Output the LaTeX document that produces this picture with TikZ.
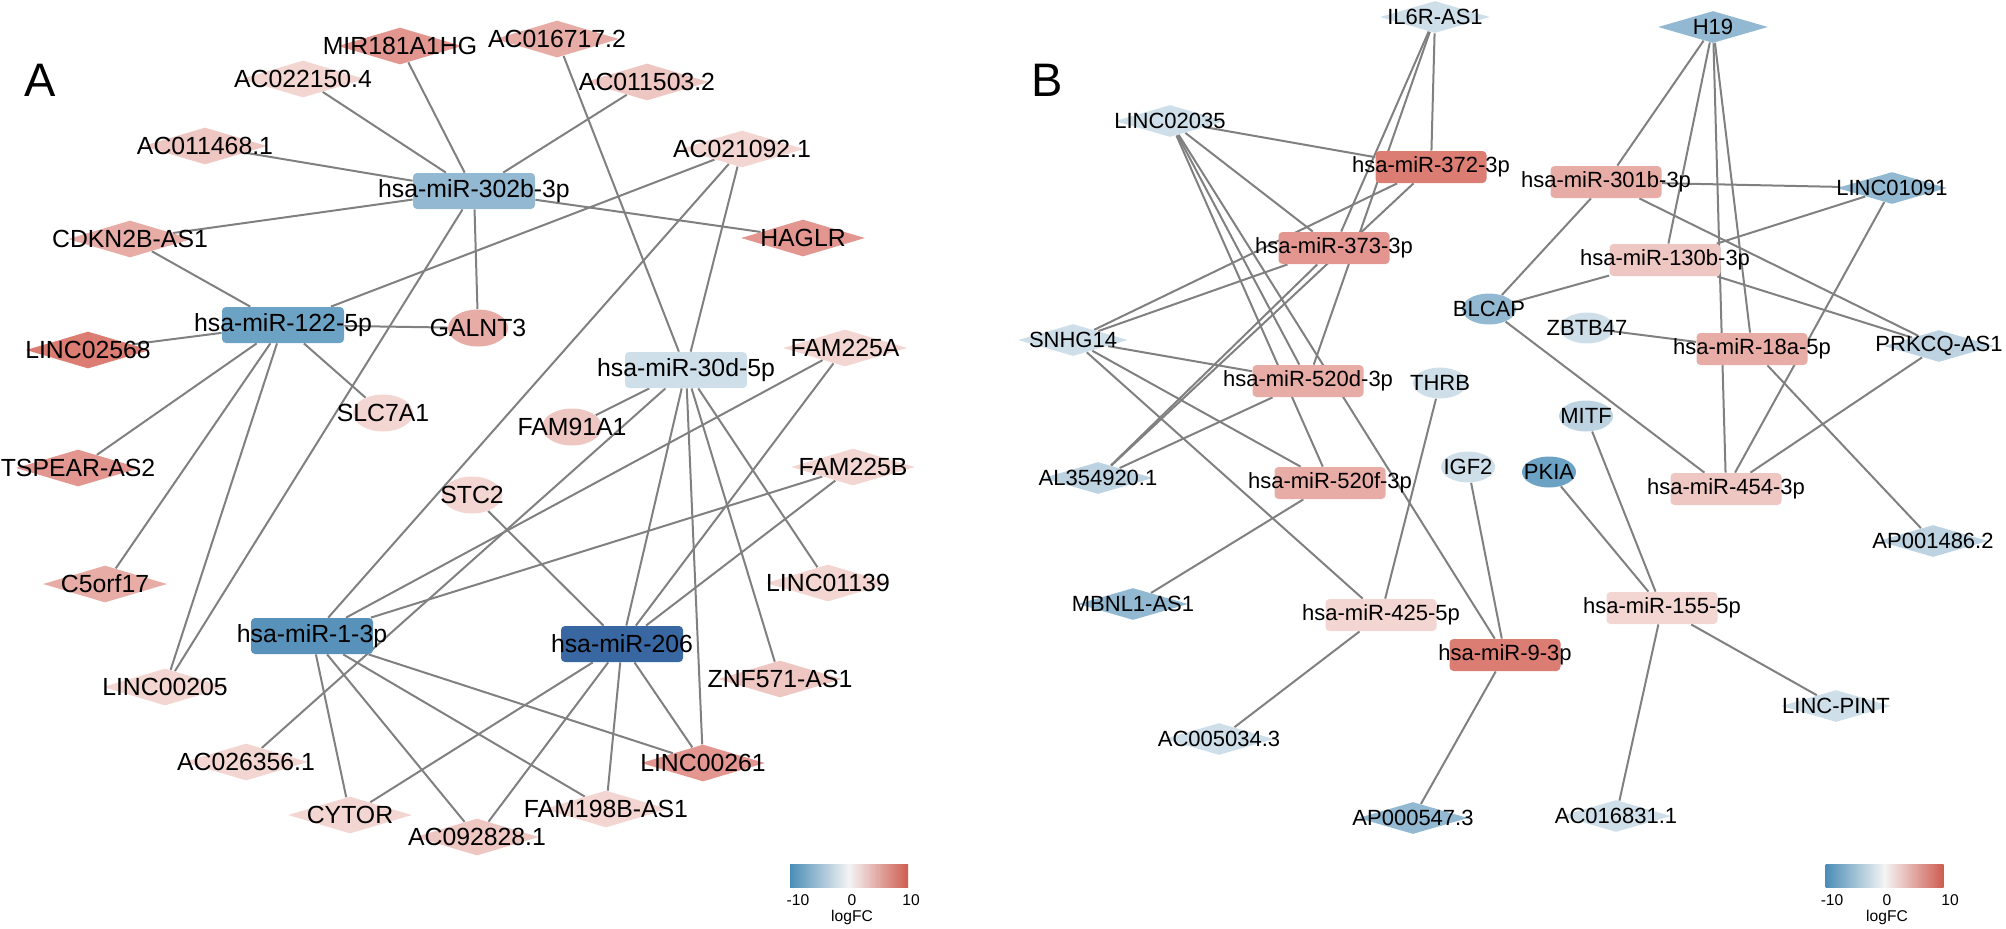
\documentclass[tikz,border=0pt]{standalone}
\usepackage{fontspec}
\setmainfont{Liberation Sans}
\usetikzlibrary{shapes.geometric, backgrounds, positioning}
\definecolor{up1}{RGB}{243,214,210}
\definecolor{up2}{RGB}{238,198,194}
\definecolor{up3}{RGB}{232,172,166}
\definecolor{up4}{RGB}{226,150,143}
\definecolor{up5}{RGB}{219,125,115}
\definecolor{dn1}{RGB}{207,223,233}
\definecolor{dn2}{RGB}{189,211,226}
\definecolor{dn3}{RGB}{146,185,209}
\definecolor{dn4}{RGB}{108,162,196}
\definecolor{dn5}{RGB}{88,146,186}
\definecolor{dn6}{RGB}{56,103,161}
\definecolor{linkgray}{RGB}{128,128,128}
\definecolor{fcblue}{RGB}{74,141,182}
\definecolor{fcwhite}{RGB}{244,244,244}
\definecolor{fcred}{RGB}{206,92,80}
\newcommand{\lbl}[1]{\makebox[0pt]{#1}}
\tikzset{
x=0.5pt, y=-0.5pt, % one unit is one pixel of the figure, y grows downwards
panel/.style={font=\fontsize{23.5}{26}\selectfont}, % the A and B tags
mirA/.style={rectangle, rounded corners=2pt, minimum width=61pt, minimum height=18pt, inner sep=0pt, font=\fontsize{12.4}{14}\selectfont}, % microRNA, panel A
lncA/.style={diamond, minimum width=62pt, minimum height=18.5pt, inner sep=0pt, font=\fontsize{12.4}{14}\selectfont}, % lncRNA, panel A
pcgA/.style={ellipse, minimum width=30pt, minimum height=18.5pt, inner sep=-3pt, font=\fontsize{12.4}{14}\selectfont}, % mRNA, panel A
mirB/.style={rectangle, rounded corners=2pt, minimum width=55.5pt, minimum height=16pt, inner sep=0pt, font=\fontsize{11}{13}\selectfont}, % microRNA, panel B
lncB/.style={diamond, minimum width=55pt, minimum height=16pt, inner sep=0pt, font=\fontsize{11}{13}\selectfont}, % lncRNA, panel B
pcgB/.style={ellipse, minimum width=27pt, minimum height=15.5pt, inner sep=-3pt, font=\fontsize{11}{13}\selectfont}, % mRNA, panel B
link/.style={every edge/.style={draw, linkgray, line width=1pt}}, % the grey interaction lines
scalebar/.style={rectangle, minimum width=59pt, minimum height=11.5pt, inner sep=0pt, left color=fcblue, right color=fcred, middle color=fcwhite}, % logFC colour key (middle colour last)
scaletick/.style={inner sep=0pt, font=\fontsize{7.8}{9}\selectfont}
}
\begin{document}
\begin{tikzpicture}
\useasboundingbox (0,0) rectangle (2006,928);

\node[panel] (tagA) at (40,80) {A};
\node[mirA, fill=dn3] (m302b) at (474,191) {\lbl{hsa-miR-302b-3p}};
\node[mirA, fill=dn4] (m122) at (283,325) {\lbl{hsa-miR-122-5p}};
\node[mirA, fill=dn1] (m30d) at (686,370) {\lbl{hsa-miR-30d-5p}};
\node[mirA, fill=dn5] (m1) at (312,636) {\lbl{hsa-miR-1-3p}};
\node[mirA, fill=dn6] (m206) at (622,644) {\lbl{hsa-miR-206}};
\node[lncA, fill=up4] (mir181) at (400,46) {\lbl{MIR181A1HG}};
\node[lncA, fill=up1] (ac0221) at (303,79) {\lbl{AC022150.4}};
\node[lncA, fill=up2] (ac0114) at (205,146) {\lbl{AC011468.1}};
\node[lncA, fill=up3] (cdkn) at (130,239) {\lbl{CDKN2B-AS1}};
\node[lncA, fill=up5] (li2568) at (88,350) {\lbl{LINC02568}};
\node[pcgA, fill=up3] (galnt3) at (478,328) {\lbl{GALNT3}};
\node[pcgA, fill=up1] (slc7a1) at (383,413) {\lbl{SLC7A1}};
\node[lncA, fill=up4] (tspear) at (78,468) {\lbl{TSPEAR-AS2}};
\node[lncA, fill=up3] (c5orf) at (105,584) {\lbl{C5orf17}};
\node[lncA, fill=up1] (li0205) at (165,687) {\lbl{LINC00205}};
\node[lncA, fill=up1] (ac0263) at (246,762) {\lbl{AC026356.1}};
\node[lncA, fill=up1] (cytor) at (350,815) {\lbl{CYTOR}};
\node[lncA, fill=up2] (ac0928) at (477,837) {\lbl{AC092828.1}};
\node[pcgA, fill=up1] (stc2) at (472,495) {\lbl{STC2}};
\node[lncA, fill=up3] (ac0167) at (557,39) {\lbl{AC016717.2}};
\node[lncA, fill=up2] (ac0115) at (647,82) {\lbl{AC011503.2}};
\node[lncA, fill=up1] (ac0210) at (742,149) {\lbl{AC021092.1}};
\node[lncA, fill=up4] (haglr) at (803,238) {\lbl{HAGLR}};
\node[lncA, fill=up1] (f225a) at (845,348) {\lbl{FAM225A}};
\node[pcgA, fill=up2] (fam91) at (572,427) {\lbl{FAM91A1}};
\node[lncA, fill=up1] (f225b) at (853,467) {\lbl{FAM225B}};
\node[lncA, fill=up1] (li1139) at (828,583) {\lbl{LINC01139}};
\node[lncA, fill=up2] (znf571) at (780,679) {\lbl{ZNF571-AS1}};
\node[lncA, fill=up4] (li0261) at (703,763) {\lbl{LINC00261}};
\node[lncA, fill=up1] (fam198) at (606,809) {\lbl{FAM198B-AS1}};

\node[panel] (tagB) at (1047,80) {B};
\node[mirB, fill=up5] (m372) at (1431,167) {\lbl{hsa-miR-372-3p}};
\node[mirB, fill=up4] (m373) at (1334,248) {\lbl{hsa-miR-373-3p}};
\node[mirB, fill=up3] (m520d) at (1308,381) {\lbl{hsa-miR-520d-3p}};
\node[mirB, fill=up3] (m520f) at (1330,483) {\lbl{hsa-miR-520f-3p}};
\node[mirB, fill=up1] (m425) at (1381,615) {\lbl{hsa-miR-425-5p}};
\node[mirB, fill=up5] (m9) at (1505,655) {\lbl{hsa-miR-9-3p}};
\node[mirB, fill=up3] (m301b) at (1606,182) {\lbl{hsa-miR-301b-3p}};
\node[mirB, fill=up2] (m130b) at (1665,260) {\lbl{hsa-miR-130b-3p}};
\node[mirB, fill=up3] (m18a) at (1752,349) {\lbl{hsa-miR-18a-5p}};
\node[mirB, fill=up2] (m454) at (1726,489) {\lbl{hsa-miR-454-3p}};
\node[mirB, fill=up1] (m155) at (1662,608) {\lbl{hsa-miR-155-5p}};
\node[lncB, fill=dn1] (il6r) at (1435,17) {\lbl{IL6R-AS1}};
\node[lncB, fill=dn1] (li2035) at (1170,121) {\lbl{LINC02035}};
\node[lncB, fill=dn1] (snhg14) at (1073,340) {\lbl{SNHG14}};
\node[pcgB, fill=dn1] (thrb) at (1440,383) {\lbl{THRB}};
\node[pcgB, fill=dn3] (blcap) at (1489,309) {\lbl{BLCAP}};
\node[pcgB, fill=dn1] (igf2) at (1468,467) {\lbl{IGF2}};
\node[lncB, fill=dn2] (al3549) at (1098,478) {\lbl{AL354920.1}};
\node[lncB, fill=dn3] (mbnl1) at (1133,604) {\lbl{MBNL1-AS1}};
\node[lncB, fill=dn1] (ac0050) at (1219,739) {\lbl{AC005034.3}};
\node[lncB, fill=dn3] (ap0005) at (1413,818) {\lbl{AP000547.3}};
\node[lncB, fill=dn3] (h19) at (1713,27) {\lbl{H19}};
\node[lncB, fill=dn3] (li1091) at (1892,188) {\lbl{LINC01091}};
\node[pcgB, fill=dn1] (zbtb47) at (1587,328) {\lbl{ZBTB47}};
\node[lncB, fill=dn2] (prkcq) at (1939,346) {\lbl{PRKCQ-AS1}};
\node[pcgB, fill=dn2] (mitf) at (1586,416) {\lbl{MITF}};
\node[pcgB, fill=dn4] (pkia) at (1549,472) {\lbl{PKIA}};
\node[lncB, fill=dn2] (ap0014) at (1933,541) {\lbl{AP001486.2}};
\node[lncB, fill=dn1] (lpint) at (1836,706) {\lbl{LINC-PINT}};
\node[lncB, fill=dn1] (ac0168) at (1616,816) {\lbl{AC016831.1}};

\node[scalebar] (keyA) at (849,875.5) {};
\node[scaletick] (keyAlo) at (798,900) {-10};
\node[scaletick] (keyAmid) at (852,900) {0};
\node[scaletick] (keyAhi) at (911,900) {10};
\node[scaletick] (keyAname) at (852,917) {logFC};
\node[scalebar] (keyB) at (1884.5,875.5) {};
\node[scaletick] (keyBlo) at (1832,900) {-10};
\node[scaletick] (keyBmid) at (1887,900) {0};
\node[scaletick] (keyBhi) at (1950,900) {10};
\node[scaletick] (keyBname) at (1887,917) {logFC};

\begin{scope}[on background layer]
\draw[link] (m302b) edge (mir181) (m302b) edge (ac0221) (m302b) edge (ac0114)
  (m302b) edge (cdkn) (m302b) edge (ac0115) (m302b) edge (haglr)
  (m302b) edge (galnt3) (m302b) edge (li0205)
  (m122) edge (cdkn) (m122) edge (li2568) (m122) edge (galnt3)
  (m122) edge (slc7a1) (m122) edge (ac0210) (m122) edge (tspear)
  (m122) edge (c5orf) (m122) edge (li0205)
  (m30d) edge (ac0167) (m30d) edge (ac0210) (m30d) edge (fam91)
  (m30d) edge (ac0263) (m30d) edge (m206) (m30d) edge (li0261)
  (m30d) edge (znf571) (m30d) edge (li1139)
  (m1) edge (ac0210) (m1) edge (f225a) (m1) edge (f225b) (m1) edge (cytor)
  (m1) edge (ac0928) (m1) edge (li0261) (m1) edge (fam198)
  (m206) edge (stc2) (m206) edge (f225a) (m206) edge (f225b) (m206) edge (cytor)
  (m206) edge (ac0928) (m206) edge (fam198) (m206) edge (li0261);
\draw[link] (li2035) edge (m372) (li2035) edge (m373) (li2035) edge (m520f)
  (li2035) edge (m520d) (li2035) edge (m9)
  (il6r) edge (m372) (il6r) edge (m373) (il6r) edge (m520d)
  (snhg14) edge (m372) (snhg14) edge (m373) (snhg14) edge (m520d)
  (snhg14) edge (m520f) (snhg14) edge (m425)
  (al3549) edge (m372) (al3549) edge (m373) (al3549) edge (m520d)
  (m520f) edge (mbnl1) (m425) edge (thrb) (m425) edge (ac0050)
  (m9) edge (igf2) (m9) edge (ap0005)
  (h19) edge (m301b) (h19) edge (m130b) (h19) edge (m18a) (h19) edge (m454)
  (li1091) edge (m301b) (li1091) edge (m130b) (li1091) edge (m454)
  (prkcq) edge (m301b) (prkcq) edge (m130b) (prkcq) edge (m454)
  (blcap) edge (m301b) (blcap) edge (m130b) (blcap) edge (m454)
  (m18a) edge (zbtb47) (m18a) edge (ap0014)
  (m155) edge (mitf) (m155) edge (pkia) (m155) edge (lpint) (m155) edge (ac0168);
\end{scope}
\end{tikzpicture}
\end{document}
